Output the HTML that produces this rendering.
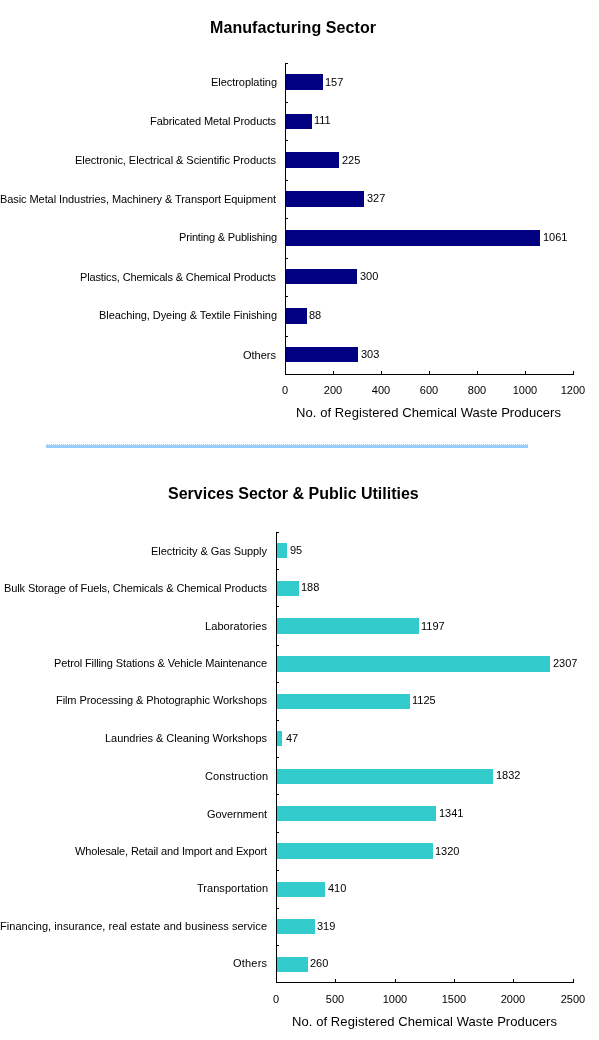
<!DOCTYPE html>
<html><head><meta charset="utf-8"><style>
html,body{margin:0;padding:0;background:#fff;overflow:hidden;}
svg{display:block;will-change:transform;}
text{font-family:"Liberation Sans",sans-serif;fill:#000;}
.lab{font-size:11px;}
.title{font-size:16px;font-weight:bold;}
.axt{font-size:13px;}
</style></head><body>
<svg width="599" height="1040" viewBox="0 0 599 1040" shape-rendering="crispEdges">
<text class="title" x="210" y="33" textLength="166" lengthAdjust="spacing">Manufacturing Sector</text>
<rect x="286" y="74" width="37" height="16" fill="#000080"/>
<text class="lab" x="211" y="86" textLength="66" lengthAdjust="spacing">Electroplating</text>
<text class="lab" x="325" y="86">157</text>
<rect x="286" y="114" width="26" height="15" fill="#000080"/>
<text class="lab" x="150" y="125" textLength="126" lengthAdjust="spacing">Fabricated Metal Products</text>
<text class="lab" x="314" y="124">111</text>
<rect x="286" y="152" width="53" height="16" fill="#000080"/>
<text class="lab" x="75" y="164" textLength="201" lengthAdjust="spacing">Electronic, Electrical &amp; Scientific Products</text>
<text class="lab" x="342" y="164">225</text>
<rect x="286" y="191" width="78" height="16" fill="#000080"/>
<text class="lab" x="0" y="203" textLength="276" lengthAdjust="spacing">Basic Metal Industries, Machinery &amp; Transport Equipment</text>
<text class="lab" x="367" y="202">327</text>
<rect x="286" y="230" width="254" height="16" fill="#000080"/>
<text class="lab" x="179" y="241" textLength="98" lengthAdjust="spacing">Printing &amp; Publishing</text>
<text class="lab" x="543" y="241">1061</text>
<rect x="286" y="269" width="71" height="15" fill="#000080"/>
<text class="lab" x="80" y="281" textLength="196" lengthAdjust="spacing">Plastics, Chemicals &amp; Chemical Products</text>
<text class="lab" x="360" y="280">300</text>
<rect x="286" y="308" width="21" height="16" fill="#000080"/>
<text class="lab" x="99" y="319" textLength="178" lengthAdjust="spacing">Bleaching, Dyeing &amp; Textile Finishing</text>
<text class="lab" x="309" y="319">88</text>
<rect x="286" y="347" width="72" height="15" fill="#000080"/>
<text class="lab" x="243" y="359" textLength="33" lengthAdjust="spacing">Others</text>
<text class="lab" x="361" y="358">303</text>
<text class="lab" x="285" y="394" text-anchor="middle">0</text>
<text class="lab" x="333" y="394" text-anchor="middle">200</text>
<text class="lab" x="381" y="394" text-anchor="middle">400</text>
<text class="lab" x="429" y="394" text-anchor="middle">600</text>
<text class="lab" x="477" y="394" text-anchor="middle">800</text>
<text class="lab" x="525" y="394" text-anchor="middle">1000</text>
<text class="lab" x="573" y="394" text-anchor="middle">1200</text>
<path d="M285.5 63V374.5H573.5 M285 63.5h3 M285 102.5h3 M285 140.5h3 M285 180.5h3 M285 218.5h3 M285 258.5h3 M285 296.5h3 M285 336.5h3 M285.5 374v-3 M333.5 374v-3 M381.5 374v-3 M429.5 374v-3 M477.5 374v-3 M525.5 374v-3 M573.5 374v-3" stroke="#000" stroke-width="1" fill="none"/>
<text class="axt" x="296" y="417" textLength="265" lengthAdjust="spacing">No. of Registered Chemical Waste Producers</text>
<rect x="46" y="445" width="482" height="3" fill="#99CCFF"/>
<path d="M47 444h1M49 444h1M51 444h1M53 444h1M55 444h1M57 444h1M59 444h1M61 444h1M63 444h1M65 444h1M67 444h1M69 444h1M71 444h1M73 444h1M75 444h1M77 444h1M79 444h1M81 444h1M83 444h1M85 444h1M87 444h1M89 444h1M91 444h1M93 444h1M95 444h1M97 444h1M99 444h1M101 444h1M103 444h1M105 444h1M107 444h1M109 444h1M111 444h1M113 444h1M115 444h1M117 444h1M119 444h1M121 444h1M123 444h1M125 444h1M127 444h1M129 444h1M131 444h1M133 444h1M135 444h1M137 444h1M139 444h1M141 444h1M143 444h1M145 444h1M147 444h1M149 444h1M151 444h1M153 444h1M155 444h1M157 444h1M159 444h1M161 444h1M163 444h1M165 444h1M167 444h1M169 444h1M171 444h1M173 444h1M175 444h1M177 444h1M179 444h1M181 444h1M183 444h1M185 444h1M187 444h1M189 444h1M191 444h1M193 444h1M195 444h1M197 444h1M199 444h1M201 444h1M203 444h1M205 444h1M207 444h1M209 444h1M211 444h1M213 444h1M215 444h1M217 444h1M219 444h1M221 444h1M223 444h1M225 444h1M227 444h1M229 444h1M231 444h1M233 444h1M235 444h1M237 444h1M239 444h1M241 444h1M243 444h1M245 444h1M247 444h1M249 444h1M251 444h1M253 444h1M255 444h1M257 444h1M259 444h1M261 444h1M263 444h1M265 444h1M267 444h1M269 444h1M271 444h1M273 444h1M275 444h1M277 444h1M279 444h1M281 444h1M283 444h1M285 444h1M287 444h1M289 444h1M291 444h1M293 444h1M295 444h1M297 444h1M299 444h1M301 444h1M303 444h1M305 444h1M307 444h1M309 444h1M311 444h1M313 444h1M315 444h1M317 444h1M319 444h1M321 444h1M323 444h1M325 444h1M327 444h1M329 444h1M331 444h1M333 444h1M335 444h1M337 444h1M339 444h1M341 444h1M343 444h1M345 444h1M347 444h1M349 444h1M351 444h1M353 444h1M355 444h1M357 444h1M359 444h1M361 444h1M363 444h1M365 444h1M367 444h1M369 444h1M371 444h1M373 444h1M375 444h1M377 444h1M379 444h1M381 444h1M383 444h1M385 444h1M387 444h1M389 444h1M391 444h1M393 444h1M395 444h1M397 444h1M399 444h1M401 444h1M403 444h1M405 444h1M407 444h1M409 444h1M411 444h1M413 444h1M415 444h1M417 444h1M419 444h1M421 444h1M423 444h1M425 444h1M427 444h1M429 444h1M431 444h1M433 444h1M435 444h1M437 444h1M439 444h1M441 444h1M443 444h1M445 444h1M447 444h1M449 444h1M451 444h1M453 444h1M455 444h1M457 444h1M459 444h1M461 444h1M463 444h1M465 444h1M467 444h1M469 444h1M471 444h1M473 444h1M475 444h1M477 444h1M479 444h1M481 444h1M483 444h1M485 444h1M487 444h1M489 444h1M491 444h1M493 444h1M495 444h1M497 444h1M499 444h1M501 444h1M503 444h1M505 444h1M507 444h1M509 444h1M511 444h1M513 444h1M515 444h1M517 444h1M519 444h1M521 444h1M523 444h1M525 444h1M527 444h1" stroke="#99CCFF" stroke-width="1" transform="translate(0,0.5)"/>
<text class="title" x="168" y="499">Services Sector &amp; Public Utilities</text>
<rect x="277" y="543" width="10" height="15" fill="#33CCCC"/>
<text class="lab" x="151" y="555" textLength="116" lengthAdjust="spacing">Electricity &amp; Gas Supply</text>
<text class="lab" x="290" y="554">95</text>
<rect x="277" y="581" width="22" height="15" fill="#33CCCC"/>
<text class="lab" x="4" y="592" textLength="263" lengthAdjust="spacing">Bulk Storage of Fuels, Chemicals &amp; Chemical Products</text>
<text class="lab" x="301" y="591">188</text>
<rect x="277" y="618" width="142" height="16" fill="#33CCCC"/>
<text class="lab" x="205" y="630" textLength="62" lengthAdjust="spacing">Laboratories</text>
<text class="lab" x="421" y="630">1197</text>
<rect x="277" y="656" width="273" height="16" fill="#33CCCC"/>
<text class="lab" x="54" y="667" textLength="213" lengthAdjust="spacing">Petrol Filling Stations &amp; Vehicle Maintenance</text>
<text class="lab" x="553" y="667">2307</text>
<rect x="277" y="694" width="133" height="15" fill="#33CCCC"/>
<text class="lab" x="56" y="704" textLength="211" lengthAdjust="spacing">Film Processing &amp; Photographic Workshops</text>
<text class="lab" x="412" y="704">1125</text>
<rect x="277" y="731" width="5" height="15" fill="#33CCCC"/>
<text class="lab" x="105" y="742" textLength="162" lengthAdjust="spacing">Laundries &amp; Cleaning Workshops</text>
<text class="lab" x="286" y="742">47</text>
<rect x="277" y="769" width="216" height="15" fill="#33CCCC"/>
<text class="lab" x="205" y="780" textLength="63" lengthAdjust="spacing">Construction</text>
<text class="lab" x="496" y="779">1832</text>
<rect x="277" y="806" width="159" height="15" fill="#33CCCC"/>
<text class="lab" x="207" y="818" textLength="60" lengthAdjust="spacing">Government</text>
<text class="lab" x="439" y="817">1341</text>
<rect x="277" y="843" width="156" height="16" fill="#33CCCC"/>
<text class="lab" x="75" y="855" textLength="192" lengthAdjust="spacing">Wholesale, Retail and Import and Export</text>
<text class="lab" x="435" y="855">1320</text>
<rect x="277" y="882" width="48" height="15" fill="#33CCCC"/>
<text class="lab" x="197" y="892" textLength="71" lengthAdjust="spacing">Transportation</text>
<text class="lab" x="328" y="892">410</text>
<rect x="277" y="919" width="38" height="15" fill="#33CCCC"/>
<text class="lab" x="0" y="930" textLength="267" lengthAdjust="spacing">Financing, insurance, real estate and business service</text>
<text class="lab" x="317" y="930">319</text>
<rect x="277" y="957" width="31" height="15" fill="#33CCCC"/>
<text class="lab" x="233" y="967" textLength="34" lengthAdjust="spacing">Others</text>
<text class="lab" x="310" y="967">260</text>
<text class="lab" x="276" y="1003" text-anchor="middle">0</text>
<text class="lab" x="335" y="1003" text-anchor="middle">500</text>
<text class="lab" x="395" y="1003" text-anchor="middle">1000</text>
<text class="lab" x="454" y="1003" text-anchor="middle">1500</text>
<text class="lab" x="513" y="1003" text-anchor="middle">2000</text>
<text class="lab" x="573" y="1003" text-anchor="middle">2500</text>
<path d="M276.5 532V982.5H573.5 M276 532.5h3 M276 569.5h3 M276 606.5h3 M276 645.5h3 M276 682.5h3 M276 720.5h3 M276 757.5h3 M276 794.5h3 M276 832.5h3 M276 870.5h3 M276 908.5h3 M276 945.5h3 M276.5 982v-3 M335.5 982v-3 M395.5 982v-3 M454.5 982v-3 M513.5 982v-3 M573.5 982v-3" stroke="#000" stroke-width="1" fill="none"/>
<text class="axt" x="292" y="1026" textLength="265" lengthAdjust="spacing">No. of Registered Chemical Waste Producers</text>
</svg>
</body></html>
